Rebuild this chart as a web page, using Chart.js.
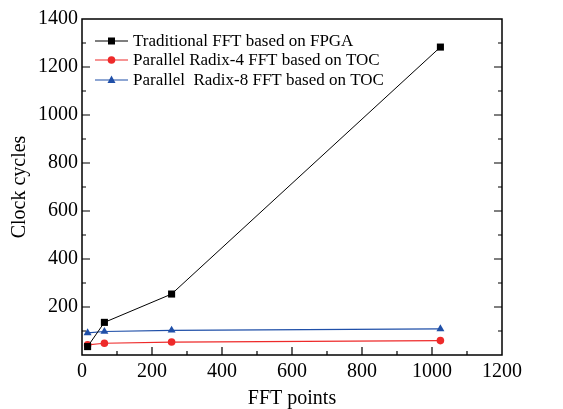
<!DOCTYPE html>
<html>
<head>
<meta charset="utf-8">
<script src="https://cdn.jsdelivr.net/npm/chart.js@4.4.1/dist/chart.umd.min.js"></script>
<style>
  html, body { margin: 0; padding: 0; background: #fff; }
  #wrap { width: 563px; height: 409px; }
</style>
</head>
<body>
<div id="wrap"><canvas id="chart" width="563" height="409"></canvas></div>
<script>
// Datos
const fftPoints = [16, 64, 256, 1024];
const traditionalFPGA = [35, 136, 254, 1283];
const radix4TOC = [42, 49, 54, 60];
const radix8TOC = [92, 98, 103, 109];

const seriesNames = [
    'Traditional FFT based on FPGA',
    'Parallel Radix-4 FFT based on TOC',
    'Parallel  Radix-8 FFT based on TOC'
];

const colors = {
    black: '#000000',
    red: '#ee2a2a',
    blue: '#1f4fa8'
};

const serif = '"Liberation Serif", "DejaVu Serif", serif';

function toXY(xs, ys) {
    return xs.map((x, i) => ({ x: x, y: ys[i] }));
}

// Marcadores de la leyenda
function drawMarker(ctx, style, x, y, color) {
    ctx.save();
    ctx.fillStyle = color;
    ctx.beginPath();
    if (style === 'rect') {
        ctx.rect(x - 3.5, y - 3.5, 7, 7);
    } else if (style === 'circle') {
        ctx.arc(x, y, 3.8, 0, Math.PI * 2);
    } else {
        ctx.moveTo(x, y - 4.5);
        ctx.lineTo(x + 4, y + 3);
        ctx.lineTo(x - 4, y + 3);
        ctx.closePath();
    }
    ctx.fill();
    ctx.restore();
}

// Marco, ticks hacia dentro y leyenda dentro del área
const framePlugin = {
    id: 'frame',
    afterDraw(chart) {
        const ctx = chart.ctx;
        const a = chart.chartArea;
        const xs = chart.scales.x;
        const ys = chart.scales.y;
        ctx.save();
        ctx.strokeStyle = '#000';
        ctx.lineWidth = 1.5;
        ctx.strokeRect(a.left, a.top, a.right - a.left, a.bottom - a.top);

        ctx.lineWidth = 1.2;
        ctx.beginPath();
        for (let v = 100; v < 1200; v += 100) {
            const px = xs.getPixelForValue(v);
            const len = v % 200 === 0 ? 8 : 4;
            ctx.moveTo(px, a.bottom);
            ctx.lineTo(px, a.bottom - len);
        }
        for (let v = 100; v < 1400; v += 100) {
            const py = ys.getPixelForValue(v);
            const len = v % 200 === 0 ? 8 : 4;
            ctx.moveTo(a.left, py);
            ctx.lineTo(a.left + len, py);
            ctx.moveTo(a.right, py);
            ctx.lineTo(a.right - len, py);
        }
        ctx.stroke();

        // Leyenda
        const styles = ['rect', 'circle', 'triangle'];
        const rows = [41, 60, 80];
        ctx.font = '17px ' + serif;
        ctx.textBaseline = 'middle';
        ctx.textAlign = 'left';
        chart.data.datasets.forEach((ds, i) => {
            const y = rows[i];
            ctx.strokeStyle = ds.borderColor;
            ctx.lineWidth = 1.2;
            ctx.beginPath();
            ctx.moveTo(95, y);
            ctx.lineTo(128, y);
            ctx.stroke();
            drawMarker(ctx, styles[i], 111.5, y, ds.borderColor);
            ctx.fillStyle = '#000';
            ctx.fillText(ds.label, 133, y + 1);
        });
        ctx.restore();
    }
};

const ctx = document.getElementById('chart').getContext('2d');
new Chart(ctx, {
    type: 'line',
    data: {
        datasets: [{
            label: seriesNames[0],
            data: toXY(fftPoints, traditionalFPGA),
            borderColor: colors.black,
            backgroundColor: colors.black,
            borderWidth: 1,
            pointStyle: 'rect',
            pointRadius: 5,
            pointBorderWidth: 0
        }, {
            label: seriesNames[1],
            data: toXY(fftPoints, radix4TOC),
            borderColor: colors.red,
            backgroundColor: colors.red,
            borderWidth: 1.2,
            pointStyle: 'circle',
            pointRadius: 3.8,
            pointBorderWidth: 0
        }, {
            label: seriesNames[2],
            data: toXY(fftPoints, radix8TOC),
            borderColor: colors.blue,
            backgroundColor: colors.blue,
            borderWidth: 1.2,
            pointStyle: 'triangle',
            pointRadius: 4.6,
            pointBorderWidth: 0
        }]
    },
    options: {
        responsive: false,
        animation: false,
        layout: { padding: { top: 19, right: 61, left: 0, bottom: 0 } },
        plugins: {
            legend: { display: false },
            tooltip: { enabled: false }
        },
        scales: {
            x: {
                type: 'linear',
                min: 0,
                max: 1200,
                afterFit: (s) => { s.height = 54; },
                grid: { display: false, drawTicks: false },
                border: { display: false },
                ticks: {
                    stepSize: 200,
                    padding: 5,
                    color: '#000',
                    maxRotation: 0,
                    font: { family: serif, size: 20 },
                    callback: (v) => String(v)
                },
                title: {
                    display: true,
                    text: 'FFT points',
                    color: '#000',
                    padding: { top: 0, bottom: -2 },
                    font: { family: serif, size: 20 }
                }
            },
            y: {
                type: 'linear',
                min: 0,
                max: 1400,
                afterFit: (s) => { s.width = 82; },
                grid: { display: false, drawTicks: false },
                border: { display: false },
                ticks: {
                    stepSize: 200,
                    padding: 4,
                    color: '#000',
                    font: { family: serif, size: 20 },
                    callback: (v) => v === 0 ? '' : String(v)
                },
                title: {
                    display: true,
                    text: 'Clock cycles',
                    color: '#000',
                    padding: { top: 8, bottom: 0 },
                    font: { family: serif, size: 20 }
                }
            }
        }
    },
    plugins: [framePlugin]
});
</script>
</body>
</html>
